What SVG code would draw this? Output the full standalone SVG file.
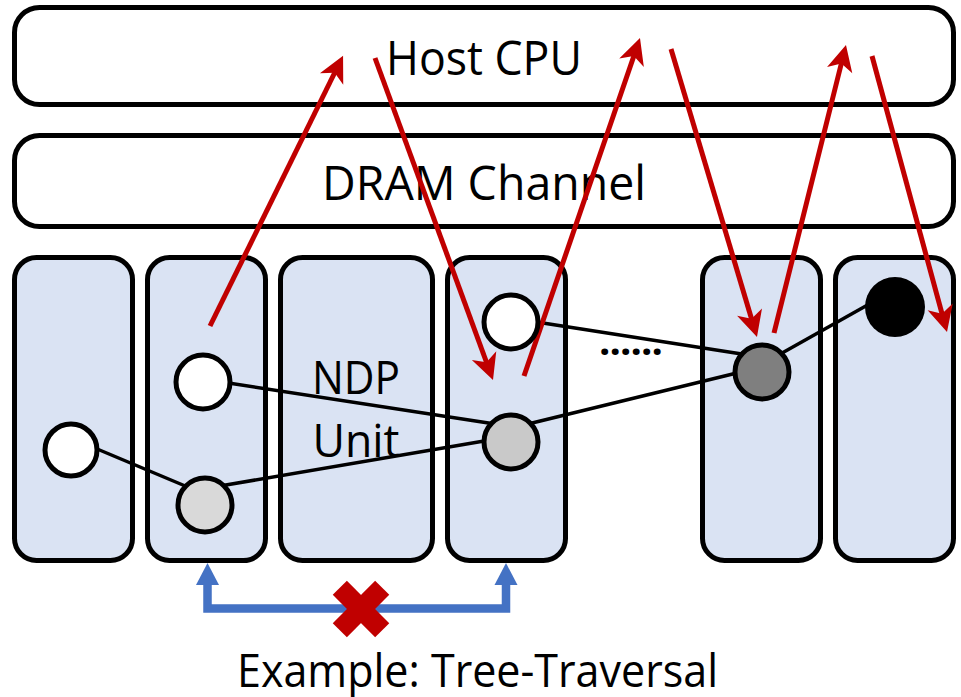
<svg xmlns="http://www.w3.org/2000/svg" width="961" height="697" viewBox="0 0 961 697">
  <style>
    .layer { fill: #ffffff; stroke: #000000; stroke-width: 5; }
    .unit { fill: #DAE3F3; stroke: #000000; stroke-width: 5; }
    .node { stroke: #000000; stroke-width: 5; }
    .edge { stroke: #000000; stroke-width: 3.5; fill: none; }
    .req { stroke: #C00000; stroke-width: 5; fill: none; marker-end: url(#redHead); }
    .lbl { font-family: "Open Sans", "Noto Sans", "Liberation Sans", sans-serif; fill: #000000; }
  </style>
  <defs>
    <marker id="redHead" markerUnits="userSpaceOnUse" markerWidth="30" markerHeight="30" viewBox="0 0 30 30" refX="12" refY="15" orient="auto">
      <path d="M28,15 L2,2 L9,15 L2,28 Z" fill="#C00000"/>
    </marker>
  </defs>

  <!-- host side -->
  <g id="host-cpu">
    <rect class="layer" x="14.5" y="7.5" width="939" height="97" rx="25"/>
    <text class="lbl" x="484" y="75" font-size="47" text-anchor="middle" textLength="196" lengthAdjust="spacingAndGlyphs">Host CPU</text>
  </g>
  <g id="dram-channel">
    <rect class="layer" x="14.5" y="135.5" width="939" height="91" rx="25"/>
    <text class="lbl" x="484" y="200" font-size="47" text-anchor="middle" textLength="324" lengthAdjust="spacingAndGlyphs">DRAM Channel</text>
  </g>

  <!-- near-data processing units -->
  <g id="ndp-unit-1"><rect class="unit" x="14.5" y="257.5" width="118" height="303" rx="22"/></g>
  <g id="ndp-unit-2"><rect class="unit" x="147.5" y="257.5" width="118" height="303" rx="22"/></g>
  <g id="ndp-unit-3">
    <rect class="unit" x="280.5" y="257.5" width="152" height="303" rx="22"/>
    <text class="lbl" x="356" y="394" font-size="45" text-anchor="middle" textLength="88" lengthAdjust="spacingAndGlyphs">NDP</text>
    <text class="lbl" x="356" y="457" font-size="45" text-anchor="middle" textLength="87" lengthAdjust="spacingAndGlyphs">Unit</text>
  </g>
  <g id="ndp-unit-4"><rect class="unit" x="447.5" y="257.5" width="118" height="303" rx="22"/></g>
  <g id="ellipsis"><text class="lbl" x="599" y="355" font-size="40" font-weight="bold" textLength="64" lengthAdjust="spacing">......</text></g>
  <g id="ndp-unit-5"><rect class="unit" x="702.5" y="257.5" width="118" height="303" rx="22"/></g>
  <g id="ndp-unit-6"><rect class="unit" x="835.5" y="257.5" width="118" height="303" rx="22"/></g>

  <!-- tree edges and traffic -->
  <g id="connectors">
    <line class="edge" x1="90" y1="446" x2="190" y2="488"/>
    <line class="edge" x1="220" y1="486" x2="490" y2="440"/>
    <line class="edge" x1="222" y1="382" x2="495" y2="424"/>
    <line class="edge" x1="530" y1="321" x2="745" y2="354.5"/>
    <line class="edge" x1="528" y1="424" x2="745" y2="371"/>
    <line class="edge" x1="775" y1="357" x2="880" y2="298"/>

    <line class="req" x1="210" y1="326" x2="336" y2="70"/>
    <line class="req" x1="375" y1="58" x2="487.5" y2="365"/>
    <line class="req" x1="524" y1="376" x2="634.8" y2="53.2"/>
    <line class="req" x1="671" y1="49" x2="752.4" y2="321.7"/>
    <line class="req" x1="774" y1="333" x2="842.1" y2="60.5"/>
    <line class="req" x1="872" y1="56" x2="942.8" y2="316.6"/>

    <!-- blocked direct link between units -->
    <path d="M207.5,582 V608.5 H506 V582" fill="none" stroke="#4472C4" stroke-width="8.5"/>
    <polygon points="207.5,563 196,585 219,585" fill="#4472C4"/>
    <polygon points="506,563 494.5,585 517.5,585" fill="#4472C4"/>
    <g id="blocked-mark" stroke="#C00000" stroke-width="20">
      <line x1="339.8" y1="587.8" x2="382.2" y2="630.2"/>
      <line x1="382.2" y1="587.8" x2="339.8" y2="630.2"/>
    </g>
  </g>

  <!-- tree nodes -->
  <g id="node-a"><circle class="node" cx="71" cy="450" r="26" fill="#ffffff"/></g>
  <g id="node-b"><circle class="node" cx="203" cy="382" r="27" fill="#ffffff"/></g>
  <g id="node-c"><circle class="node" cx="205" cy="505" r="27" fill="#D9D9D9"/></g>
  <g id="node-d"><circle class="node" cx="511" cy="322" r="27" fill="#ffffff"/></g>
  <g id="node-e"><circle class="node" cx="511" cy="442" r="27" fill="#C9C9C9"/></g>
  <g id="node-f"><circle class="node" cx="762" cy="372" r="27" fill="#7F7F7F"/></g>
  <g id="node-g"><circle cx="895" cy="307" r="30" fill="#000000"/></g>

  <g id="caption">
    <text class="lbl" x="237" y="687" font-size="46" textLength="481" lengthAdjust="spacingAndGlyphs">Example: Tree-Traversal</text>
  </g>
</svg>
